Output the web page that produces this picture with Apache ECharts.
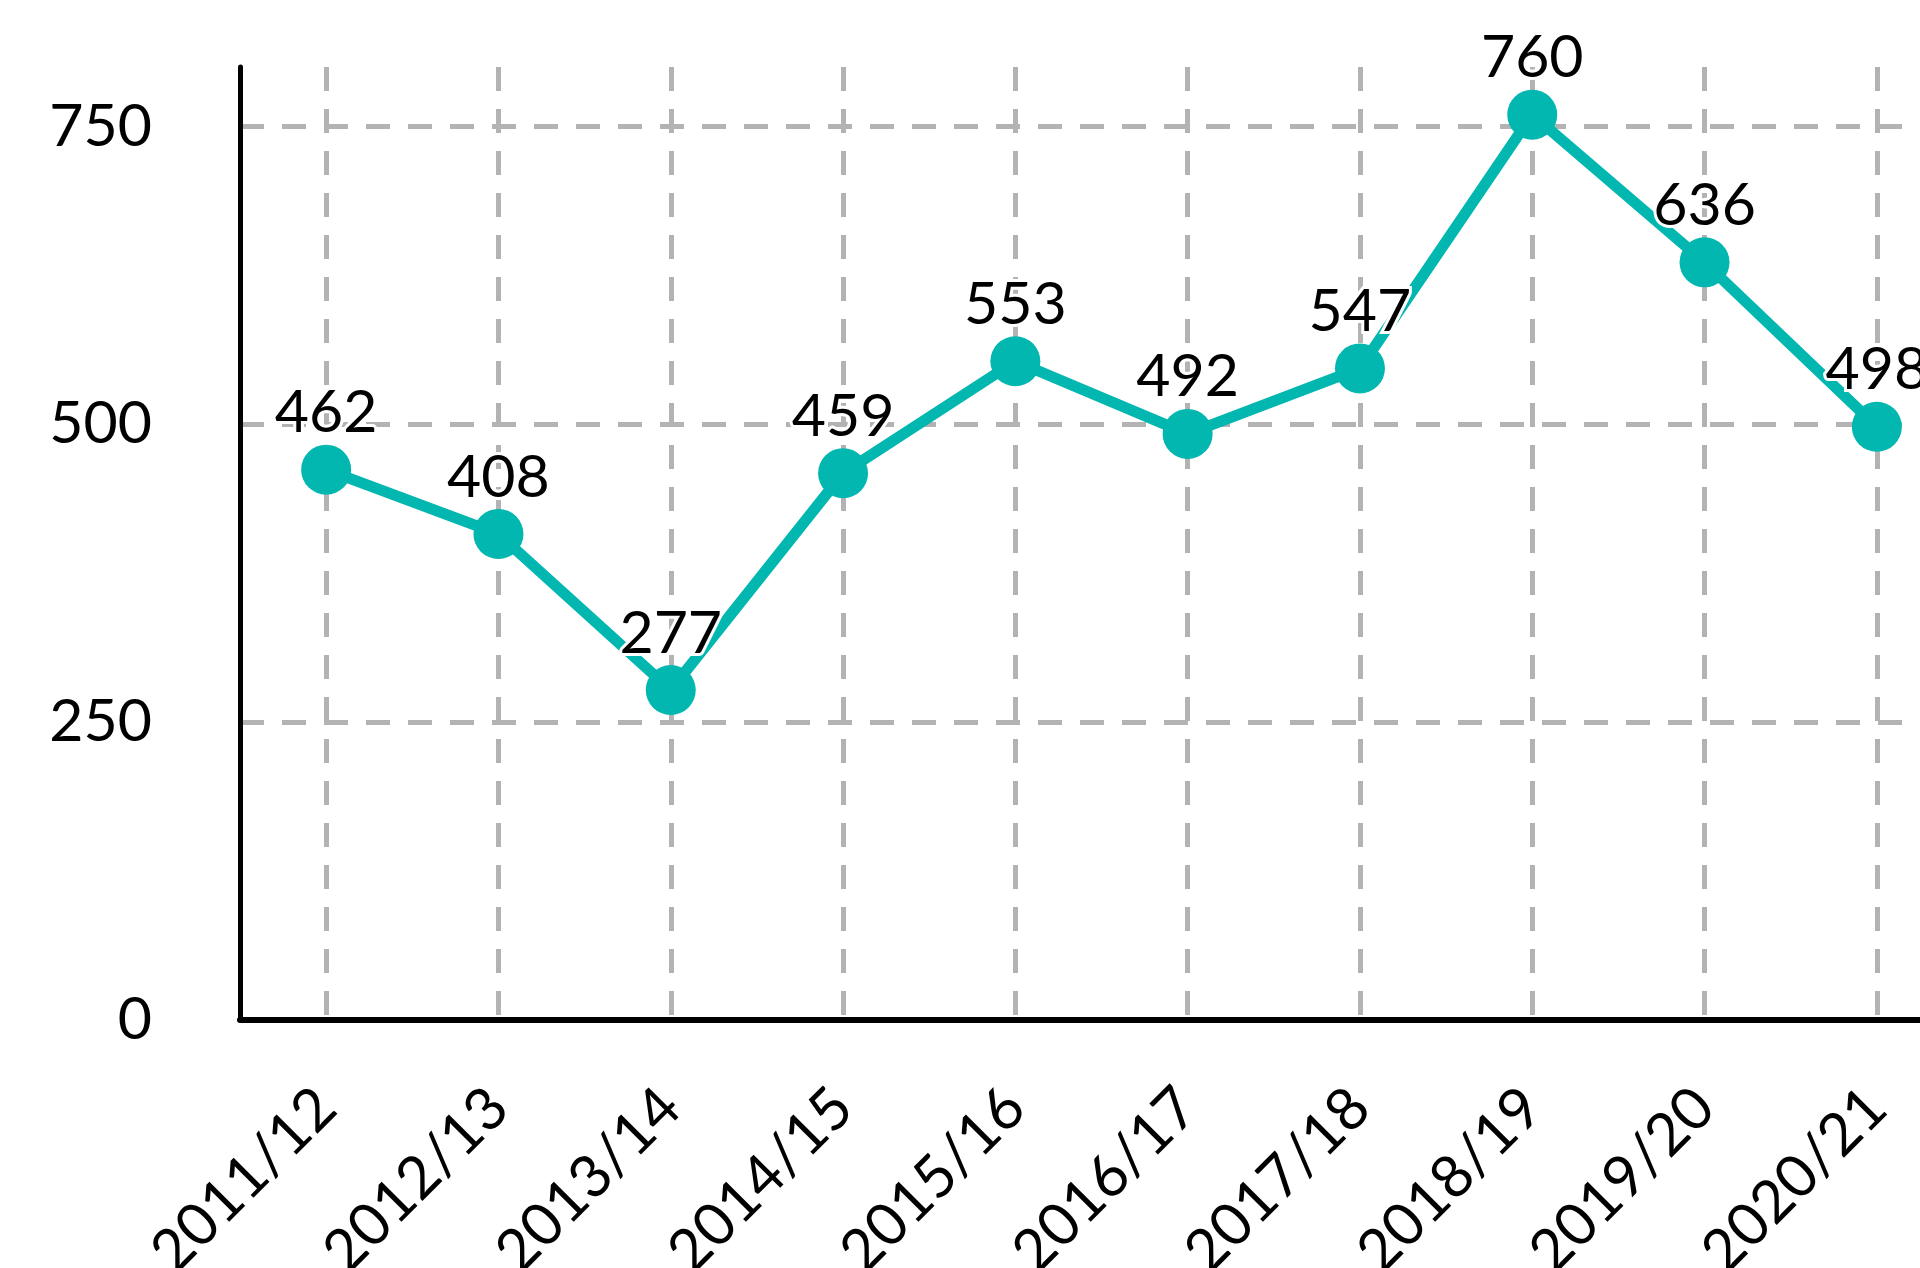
<!DOCTYPE html>
<html>
<head>
<meta charset="utf-8">
<title>line chart</title>
<script src="https://cdn.jsdelivr.net/npm/echarts@6/dist/echarts.min.js"></script>
<style>
  html, body {
    margin: 0;
    padding: 0;
    background: #ffffff;
  }
  #main {
    width: 1920px;
    height: 1268px;
  }
</style>
</head>
<body>
<div id="main"></div>
<script>
// 年份（横轴）
const years = ["2011/12", "2012/13", "2013/14", "2014/15", "2015/16",
  "2016/17", "2017/18", "2018/19", "2019/20", "2020/21"];
// 每年数值
const values = [462, 408, 277, 459, 553, 492, 547, 760, 636, 498];
// 纵轴刻度
const yMin = 0;
const yMax = 800;
const yStep = 250;

const teal = "#02b7b0";
const gridGray = "#b3b3b3";

let myChart = echarts.init(document.getElementById("main"));
myChart.setOption({
  animation: false,
  textStyle: {
    fontFamily: "Lato",
  },
  grid: {
    left: 240,
    top: 67,
    bottom: 248,
    width: 1723, // 最后一列在画面外被截掉
    containLabel: false,
    outerBoundsMode: "none",
  },
  xAxis: {
    type: "category",
    data: years,
    boundaryGap: true,
    axisLine: {
      lineStyle: { color: "#000", width: 6 },
    },
    axisTick: { show: false },
    axisLabel: {
      interval: 0,
      rotate: 45,
      margin: 78,
      fontSize: 59,
      color: "#000",
    },
    splitLine: {
      show: true,
      interval: 0,
      alignWithLabel: true,
      lineStyle: {
        color: gridGray,
        width: 5,
        type: [24, 18],
      },
    },
  },
  yAxis: {
    type: "value",
    min: yMin,
    max: yMax,
    interval: yStep,
    axisLine: {
      show: true,
      lineStyle: { color: "#000", width: 5 },
    },
    axisTick: { show: false },
    axisLabel: {
      margin: 88,
      fontSize: 59,
      color: "#000",
      showMaxLabel: false,
    },
    splitLine: {
      showMinLine: false,
      showMaxLine: false,
      lineStyle: {
        color: gridGray,
        width: 5,
        type: [24, 18],
      },
    },
  },
  series: [
    {
      type: "line",
      data: values,
      symbol: "circle",
      symbolSize: 50,
      itemStyle: { color: teal },
      lineStyle: { color: teal, width: 11 },
      label: {
        show: true,
        position: "top",
        distance: 2,
        fontSize: 59,
        color: "#000",
        textBorderColor: "#fff",
        textBorderWidth: 6,
      },
    },
  ],
});
</script>
</body>
</html>
